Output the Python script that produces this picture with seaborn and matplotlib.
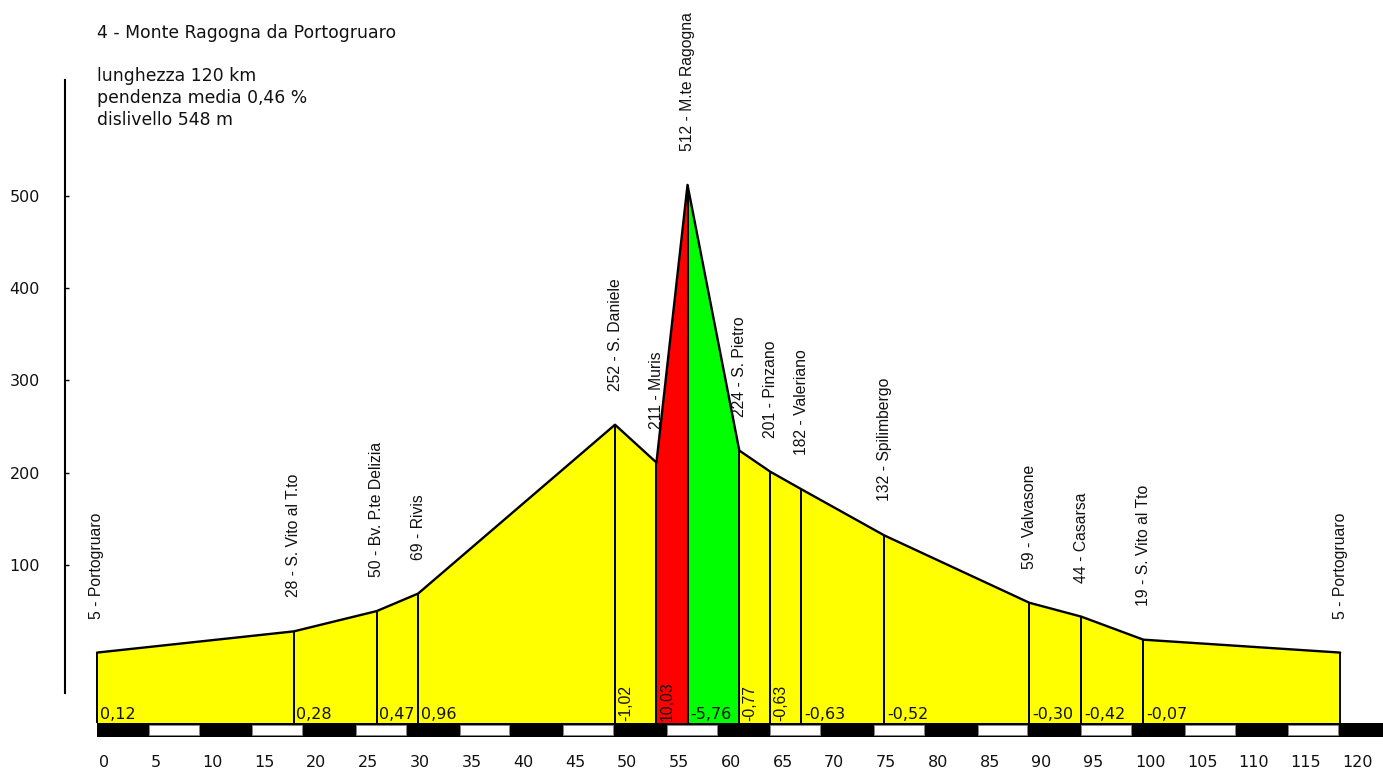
import matplotlib
matplotlib.use("Agg")
import matplotlib.pyplot as plt
import matplotlib.transforms as mtransforms
import seaborn as sns

# percorso: km, quota e nome delle località
km = [0, 19, 27, 31, 50, 54, 57, 62, 65, 68, 76, 90, 95, 101, 120]
quota = [5, 28, 50, 69, 252, 211, 512, 224, 201, 182, 132, 59, 44, 19, 5]
localita = ["Portogruaro", "S. Vito al T.to", "Bv. P.te Delizia", "Rivis",
            "S. Daniele", "Muris", "M.te Ragogna", "S. Pietro", "Pinzano",
            "Valeriano", "Spilimbergo", "Valvasone", "Casarsa",
            "S. Vito al Tto", "Portogruaro"]
pendenze = ["0,12", "0,28", "0,47", "0,96", "-1,02", "10,03", "-5,76",
            "-0,77", "-0,63", "-0,63", "-0,52", "-0,30", "-0,42", "-0,07"]
km_ticks = list(range(0, 125, 5))
quota_ticks = [100, 200, 300, 400, 500]

titolo = "4 - Monte Ragogna da Portogruaro"
info = ["lunghezza 120 km", "pendenza media 0,46 %", "dislivello 548 m"]

sns.set_theme(style="white")
plt.rcParams["font.family"] = ["Liberation Sans", "DejaVu Sans"]

# testo orizzontale più largo (l'originale è stirato in orizzontale)
font_h = dict(family=["DejaVu Sans"], fontsize=11.5, color="#111111")
font_t = dict(family=["DejaVu Sans"], fontsize=12.4, color="#111111")
font_v = dict(family=["Liberation Sans", "DejaVu Sans"], fontsize=11.3, color="#111111")

fig = plt.figure(figsize=(13.83, 7.72), dpi=100)
# axes: pixel x 0..1383, y 0..745 (top-down)
ax = fig.add_axes([0, 1 - 745 / 772, 1, 745 / 772])
px_km = 10.36
px_m = 0.9225
ax.set_xlim(-97 / px_km, (1383 - 97) / px_km)
ax.set_ylim((657.2 - 745) / px_m, 657.2 / px_m)

base = (657.2 - 723) / px_m      # top of the km band
band_h = 14 / px_m


def colore(p):
    v = float(p.replace(",", "."))
    if v >= 8:
        return "#ff0000"
    if v <= -5:
        return "#00ff00"
    return "#ffff00"


# profilo colorato per tratto
for i in range(len(km) - 1):
    ax.fill_between(km[i:i + 2], base, quota[i:i + 2],
                    color=colore(pendenze[i]), lw=0)

ax.vlines(km, base, quota, color="black", lw=1.4)
sns.lineplot(x=km, y=quota, ax=ax, color="black", lw=1.7)

# banda km bianca/nera
ax.bar(0, -band_h, width=125, bottom=base, align="edge", color="black", lw=0)
white_starts = km_ticks[1::2]
ax.bar(white_starts, -(band_h - 4 / px_m), width=5 - 0.2, bottom=base - 2 / px_m,
       align="edge", color="white", edgecolor="#888888", lw=0.6)

# località
for k, q, n in zip(km, quota, localita):
    ax.text(k, q + 34 / px_m, f"{q} - {n}", rotation=90, ha="center",
            va="bottom", **font_v)

# pendenze
for i, p in enumerate(pendenze):
    seg = km[i + 1] - km[i]
    if len(p) > seg:
        ax.text(km[i] + 0.3, base + 2 / px_m, p, rotation=90, ha="left",
                va="bottom", **font_v)
    else:
        ax.text(km[i] + 0.25, base + 1 / px_m, p, ha="left", va="bottom", **font_h)

# assi
for s in ["top", "right", "bottom"]:
    ax.spines[s].set_visible(False)
ax.spines["left"].set_position(("data", -32 / px_km))
ax.spines["left"].set_bounds((657.2 - 693) / px_m, (657.2 - 80) / px_m)
ax.spines["left"].set_color("black")
ax.spines["left"].set_linewidth(1.5)
ax.set_yticks(quota_ticks)
ax.set_yticklabels([str(t) for t in quota_ticks], **font_h)
ax.tick_params(axis="y", direction="in", length=3, width=1, color="black", pad=18, left=True)
ax.set_xticks(km_ticks)
ax.set_xticklabels([str(t) for t in km_ticks], **font_h)
ax.tick_params(axis="x", length=0, pad=7)
off = mtransforms.ScaledTranslation(2 / 100, 0, fig.dpi_scale_trans)
for lab in ax.get_xticklabels():
    lab.set_horizontalalignment("left")
    lab.set_transform(lab.get_transform() + off)
ax.grid(False)

fig.text(97 / 1383, 1 - 33 / 772, titolo, va="center", **font_t)
for j, t in enumerate(info):
    fig.text(97 / 1383, 1 - (76 + 22 * j) / 772, t, va="center", **font_t)

fig.savefig("out.png", dpi=100, facecolor="white")
